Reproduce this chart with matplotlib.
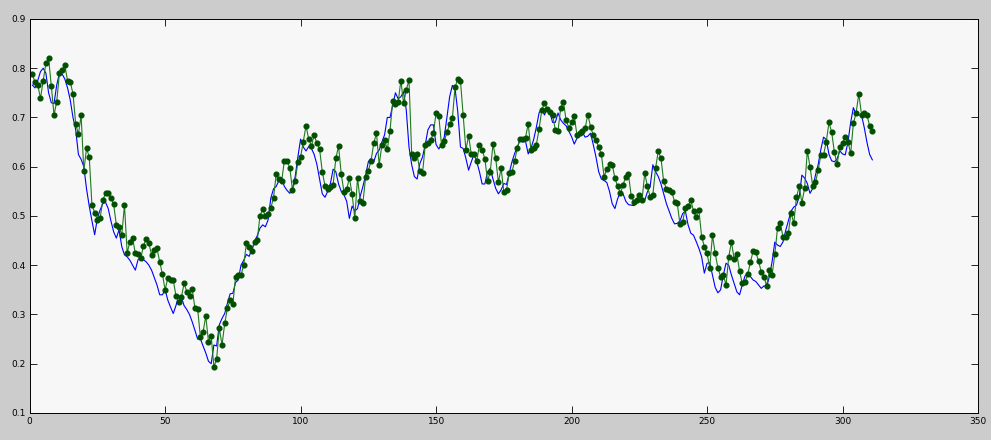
import numpy as np
import matplotlib
matplotlib.use("Agg")
import matplotlib.pyplot as plt

# series (index 1..311)
predicted = [
    0.788, 0.771, 0.766, 0.739, 0.774, 0.810, 0.820, 0.764, 0.705, 0.732,
    0.790, 0.796, 0.806, 0.774, 0.772, 0.748, 0.687, 0.666, 0.704, 0.592,
    0.637, 0.620, 0.522, 0.507, 0.492, 0.495, 0.532, 0.546, 0.547, 0.536,
    0.524, 0.482, 0.478, 0.461, 0.522, 0.425, 0.448, 0.455, 0.424, 0.423,
    0.414, 0.439, 0.453, 0.445, 0.421, 0.431, 0.434, 0.407, 0.382, 0.350,
    0.374, 0.370, 0.370, 0.338, 0.326, 0.335, 0.363, 0.346, 0.338, 0.352,
    0.313, 0.312, 0.255, 0.264, 0.297, 0.245, 0.256, 0.194, 0.209, 0.272,
    0.238, 0.282, 0.313, 0.329, 0.321, 0.377, 0.380, 0.380, 0.400, 0.445,
    0.438, 0.428, 0.448, 0.451, 0.500, 0.514, 0.499, 0.505, 0.516, 0.537,
    0.585, 0.575, 0.570, 0.612, 0.612, 0.598, 0.553, 0.571, 0.610, 0.620,
    0.651, 0.683, 0.656, 0.642, 0.664, 0.648, 0.636, 0.590, 0.561, 0.555,
    0.559, 0.563, 0.617, 0.642, 0.585, 0.549, 0.554, 0.577, 0.545, 0.495,
    0.577, 0.531, 0.527, 0.579, 0.592, 0.612, 0.648, 0.668, 0.604, 0.644,
    0.654, 0.635, 0.673, 0.734, 0.727, 0.731, 0.775, 0.729, 0.756, 0.776,
    0.625, 0.618, 0.625, 0.591, 0.587, 0.644, 0.648, 0.654, 0.668, 0.709,
    0.703, 0.644, 0.652, 0.670, 0.686, 0.698, 0.761, 0.778, 0.774, 0.704,
    0.634, 0.663, 0.625, 0.625, 0.612, 0.644, 0.634, 0.616, 0.571, 0.590,
    0.646, 0.617, 0.568, 0.597, 0.549, 0.553, 0.587, 0.589, 0.612, 0.639,
    0.656, 0.656, 0.659, 0.687, 0.634, 0.639, 0.645, 0.676, 0.715, 0.729,
    0.717, 0.712, 0.705, 0.675, 0.673, 0.720, 0.732, 0.694, 0.679, 0.690,
    0.702, 0.664, 0.668, 0.673, 0.678, 0.706, 0.681, 0.664, 0.655, 0.640,
    0.625, 0.580, 0.595, 0.605, 0.604, 0.577, 0.560, 0.546, 0.563, 0.580,
    0.585, 0.541, 0.529, 0.532, 0.543, 0.532, 0.587, 0.560, 0.539, 0.543,
    0.597, 0.632, 0.617, 0.570, 0.555, 0.553, 0.549, 0.529, 0.526, 0.483,
    0.488, 0.517, 0.520, 0.532, 0.510, 0.497, 0.512, 0.458, 0.438, 0.424,
    0.395, 0.461, 0.424, 0.395, 0.377, 0.380, 0.360, 0.417, 0.447, 0.413,
    0.423, 0.388, 0.363, 0.365, 0.382, 0.406, 0.429, 0.426, 0.409, 0.386,
    0.377, 0.358, 0.390, 0.380, 0.422, 0.475, 0.486, 0.458, 0.458, 0.465,
    0.507, 0.485, 0.538, 0.560, 0.527, 0.556, 0.632, 0.600, 0.560, 0.568,
    0.593, 0.624, 0.624, 0.651, 0.690, 0.670, 0.629, 0.605, 0.641, 0.648,
    0.660, 0.651, 0.627, 0.688, 0.709, 0.748, 0.706, 0.709, 0.705, 0.683,
    0.673,
]

actual = [
    0.766, 0.760, 0.775, 0.793, 0.800, 0.790, 0.750, 0.730, 0.728, 0.766,
    0.790, 0.788, 0.778, 0.760, 0.735, 0.700, 0.675, 0.625, 0.615, 0.600,
    0.555, 0.520, 0.490, 0.462, 0.495, 0.512, 0.525, 0.528, 0.515, 0.490,
    0.468, 0.455, 0.472, 0.438, 0.421, 0.417, 0.410, 0.400, 0.390, 0.411,
    0.416, 0.411, 0.407, 0.400, 0.390, 0.375, 0.360, 0.340, 0.340, 0.350,
    0.329, 0.315, 0.302, 0.318, 0.338, 0.335, 0.318, 0.310, 0.300, 0.285,
    0.268, 0.250, 0.251, 0.236, 0.222, 0.205, 0.200, 0.238, 0.236, 0.279,
    0.292, 0.302, 0.323, 0.342, 0.343, 0.365, 0.370, 0.400, 0.410, 0.422,
    0.418, 0.432, 0.448, 0.460, 0.475, 0.482, 0.478, 0.492, 0.536, 0.555,
    0.560, 0.572, 0.578, 0.560, 0.552, 0.546, 0.555, 0.580, 0.620, 0.656,
    0.640, 0.632, 0.641, 0.637, 0.625, 0.605, 0.575, 0.545, 0.538, 0.550,
    0.566, 0.595, 0.590, 0.565, 0.550, 0.543, 0.530, 0.495, 0.520, 0.510,
    0.515, 0.540, 0.560, 0.583, 0.610, 0.617, 0.610, 0.627, 0.634, 0.650,
    0.665, 0.700, 0.700, 0.725, 0.750, 0.738, 0.742, 0.752, 0.715, 0.640,
    0.604, 0.580, 0.575, 0.606, 0.620, 0.645, 0.675, 0.685, 0.685, 0.645,
    0.636, 0.645, 0.660, 0.700, 0.742, 0.765, 0.759, 0.712, 0.640, 0.637,
    0.617, 0.593, 0.610, 0.625, 0.610, 0.590, 0.565, 0.565, 0.590, 0.597,
    0.575, 0.556, 0.545, 0.553, 0.566, 0.564, 0.587, 0.610, 0.627, 0.640,
    0.655, 0.650, 0.652, 0.626, 0.637, 0.655, 0.680, 0.709, 0.719, 0.705,
    0.719, 0.710, 0.690, 0.690, 0.709, 0.695, 0.688, 0.683, 0.672, 0.661,
    0.646, 0.658, 0.664, 0.670, 0.660, 0.662, 0.668, 0.645, 0.620, 0.590,
    0.575, 0.572, 0.568, 0.550, 0.525, 0.515, 0.535, 0.548, 0.545, 0.530,
    0.523, 0.522, 0.521, 0.526, 0.532, 0.534, 0.532, 0.549, 0.560, 0.604,
    0.590, 0.580, 0.565, 0.545, 0.525, 0.510, 0.495, 0.484, 0.485, 0.490,
    0.505, 0.510, 0.482, 0.465, 0.461, 0.448, 0.434, 0.417, 0.384, 0.404,
    0.405, 0.380, 0.355, 0.344, 0.350, 0.380, 0.404, 0.400, 0.380, 0.363,
    0.346, 0.340, 0.360, 0.378, 0.384, 0.377, 0.370, 0.367, 0.360, 0.353,
    0.358, 0.356, 0.377, 0.407, 0.447, 0.441, 0.438, 0.447, 0.470, 0.490,
    0.510, 0.518, 0.522, 0.539, 0.583, 0.577, 0.566, 0.546, 0.556, 0.583,
    0.604, 0.635, 0.660, 0.655, 0.625, 0.612, 0.610, 0.616, 0.632, 0.626,
    0.624, 0.650, 0.690, 0.720, 0.705, 0.705, 0.705, 0.680, 0.650, 0.625,
    0.614,
]

xTicks = [0, 50, 100, 150, 200, 250, 300, 350]
yTicks = [0.1, 0.2, 0.3, 0.4, 0.5, 0.6, 0.7, 0.8, 0.9]

fig = plt.figure(figsize=(9.91, 4.40), dpi=100)
fig.patch.set_facecolor('#cccccc')
ax = fig.add_axes([0.0299, 0.0614, 0.957, 0.8955])
ax.set_facecolor('#f7f7f7')

xs = np.arange(1, len(actual) + 1)
xp = np.arange(1, len(predicted) + 1)

# blue line first, green with dots on top
ax.plot(xs, actual, color='#0000ff', linewidth=0.8)
ax.plot(xp, predicted, color='#1e7a1e', linewidth=0.8,
        marker='o', markersize=3.4, markerfacecolor='#005000',
        markeredgecolor='#005000')

ax.set_xlim(0, 350)
ax.set_ylim(0.1, 0.9)
ax.set_xticks(xTicks)
ax.set_yticks(yTicks)
ax.set_xticklabels([str(t) for t in xTicks])
ax.set_yticklabels([f"{t:.1f}" for t in yTicks])

ax.tick_params(direction='in', length=5, width=0.6, labelsize=6.5,
               top=True, right=True, pad=3)
for sp in ax.spines.values():
    sp.set_linewidth(0.7)
    sp.set_color('black')

fig.savefig('out.png', dpi=100, facecolor=fig.get_facecolor())
